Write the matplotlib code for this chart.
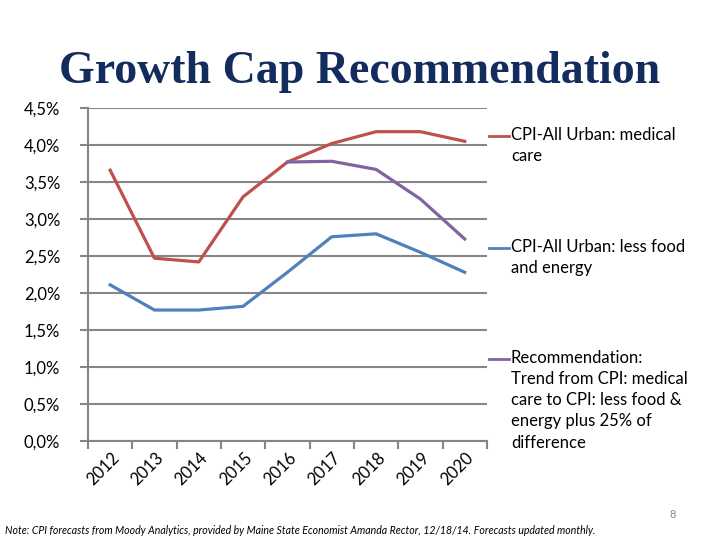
import numpy as np
import matplotlib
matplotlib.use("Agg")
import matplotlib.pyplot as plt
from matplotlib.lines import Line2D

plt.rcParams['font.family'] = ['Lato', 'DejaVu Sans']

years = ['2012', '2013', '2014', '2015', '2016', '2017', '2018', '2019', '2020']
medical = [3.66, 2.47, 2.42, 3.30, 3.77, 4.02, 4.18, 4.18, 4.05]
core = [2.11, 1.77, 1.77, 1.82, 2.28, 2.76, 2.80, 2.55, 2.28]
recommend = [np.nan, np.nan, np.nan, np.nan, 3.77, 3.78, 3.67, 3.27, 2.73]

labels = ['CPI-All Urban: medical\ncare',
          'CPI-All Urban: less food\nand energy',
          'Recommendation:\nTrend from CPI: medical\ncare to CPI: less food &\nenergy plus 25% of\ndifference']
colors = ['#C0504D', '#4F81BD', '#8064A2']
y_ticks = [0, 0.5, 1.0, 1.5, 2.0, 2.5, 3.0, 3.5, 4.0, 4.5]

fig = plt.figure(figsize=(7.2, 5.4), dpi=100)
ax = fig.add_axes([0.1222, 0.1833, 0.554, 0.6167])

x = np.arange(len(years))
for vals, c in zip([medical, core, recommend], colors):
    ax.plot(x, vals, color=c, lw=2.3, solid_joinstyle='round')

grid_c = '#868686'
ax.set_ylim(0, 4.5)
ax.set_xlim(-0.5, len(years) - 0.5)
ax.set_yticks(y_ticks)
ax.set_yticklabels([f"{v:.1f}%".replace('.', ',') for v in y_ticks], fontsize=12)
ax.yaxis.grid(True, color=grid_c, lw=1.5)
ax.set_axisbelow(True)

# category labels at centers, tick marks at boundaries
ax.set_xticks(np.arange(-0.5, len(years), 1.0))
ax.set_xticklabels([])
ax.tick_params(axis='x', length=6, color=grid_c, width=1.5)
ax.tick_params(axis='y', length=6, color=grid_c, width=1.5, pad=14)
for i, yr in enumerate(years):
    ax.text(i + 0.02, -0.12, yr, rotation=45, rotation_mode='anchor',
            ha='right', va='top', fontsize=12, transform=ax.transData)

for s in ['top', 'right']:
    ax.spines[s].set_visible(False)
for s in ['left', 'bottom']:
    ax.spines[s].set_color(grid_c)
    ax.spines[s].set_linewidth(1.5)

# legend drawn by hand on the right
leg_y = [136, 248, 359]
for ly, lab, c in zip(leg_y, labels, colors):
    yf = 1 - ly / 540
    fig.add_artist(Line2D([489 / 720, 509 / 720], [yf, yf], color=c, lw=2))
    fig.text(511 / 720, yf + 0.017, lab, fontsize=12, va='top', ha='left',
             linespacing=1.4)

fig.text(0.5, 1 - 83 / 540, 'Growth Cap Recommendation', ha='center', va='baseline',
         fontsize=33, fontweight='bold', color='#142B5E', family='Liberation Serif')

fig.text(5 / 720, 1 - 530 / 540,
         'Note: CPI forecasts from Moody Analytics, provided by Maine State Economist '
         'Amanda Rector, 12/18/14. Forecasts updated monthly.',
         fontsize=7.6, style='italic', va='center')
fig.text(673 / 720, 1 - 515 / 540, '8', fontsize=8, color='#888888', ha='center', va='center')

fig.savefig('out.png', dpi=100)
